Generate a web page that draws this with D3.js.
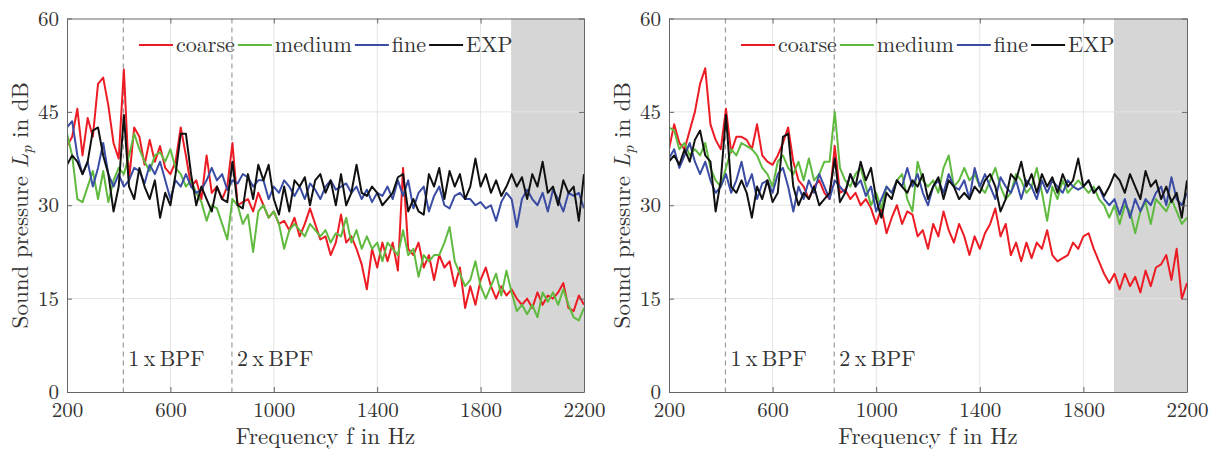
<!DOCTYPE html>
<html>
<head>
<meta charset="utf-8">
<script src="https://cdn.jsdelivr.net/npm/d3@7"></script>
<style>
  body { margin: 0; background: #fff; }
  text { font-family: "Latin Modern Roman", "Liberation Serif", serif; fill: #333; }
</style>
</head>
<body>
<svg id="chart" width="1215" height="452"></svg>
<script>
// frequency bins in Hz (20 Hz step)
var freqs = d3.range(200, 2201, 20)

var xTicks = [200, 600, 1000, 1400, 1800, 2200]
var yTicks = [0, 15, 30, 45, 60]
var bpf = [418, 838]
var bpfLabels = ["1\u2009x\u2009BPF", "2\u2009x\u2009BPF"]
var shadeFrom = 1918

var seriesNames = ["coarse", "medium", "fine", "EXP"]
var seriesColors = ["#ec1c24", "#5fba3f", "#3a4ca3", "#111111"]

// left case
var leftCoarse = [39.5,41,45.5,38,44,41,49.5,50.5,46,40,
  37.5,51.8,34,42.5,41,36.5,40.5,37,39.5,36,
  35,37,42.5,38,33,34,31,38,32,33,
  31,33,40,30,30.5,31,29,32,30,28,
  29,27,27.5,26,28,25,27,29.5,27,24.5,
  25,22,24,28.5,24,25,23,20.5,16.5,23,
  20,24,21,24,19.5,36,23,22,24,20,
  22,18,22,20,21,17,20,13.5,17,14,
  18,20,17,15,17,15.5,16.5,15,14,15,
  13.5,16,14,15.5,15,16,17.5,13.5,13,15.5,
  14]
var leftMedium = [41.5,38,31,30.5,33,35.5,31,35.5,30.5,34,
  36,35,38,41.5,39,37,35.5,38,38.5,37,
  39,36,35,33,34,32,30.5,27.5,30,29.5,
  27,24.5,31,30,27,28.5,22.5,29,30,28,
  29,27,23,26,27,26,25,27,26,25,
  26,24,25.5,25,28,24,26,23,25,23,
  24,21,24,23,22,26,22,23,18.5,22,
  21,22,22,24,26.5,21,19,17,18,21,
  17,15,17,19,15.5,19.5,16,13,14,12.5,
  14,12,16,14.5,16,14,16.5,14,12,11.5,
  13.5]
var leftFine = [42.5,43.5,38,35,37,33,36,40,35,33,
  35,33,34,36,35.5,33.5,36.5,35,37,34,
  31,34,33,35,33,32,32.5,34,36,34,
  35,32.5,34,33.5,35,34.5,33,34,34,31,
  33,32,34,33,31.5,33,31,33.5,32.5,31,
  33,34,32.5,33,33.5,32,33,31,32.5,30.5,
  32,31.5,33,31,34,31.5,34,29.5,32,33,
  29,31.5,33,30,29.5,31.5,32,31,31,30,
  30.5,29.5,30,27.5,30.5,32,31,26.5,31,32.5,
  31,30,32,29,32.5,31,29,32,31.5,32,
  29.5]
var leftExp = [36.5,38,37,35,37,42,42.5,38,35,29,
  33,44.5,33,31,36,33,31,34,28,32,
  30,35,41.5,41.5,35,30,33,31,29,33,
  31,30.5,37,30,29.5,35,31,36.5,34,36.5,
  31,28.5,33,29,34,33,34.5,30,34,35,
  32,34,30,35,30,32,36.5,32,31.5,33,
  32,30,31,32,34.5,35,29,31,29,28.5,
  35,33,36,31,35.5,33,35,31,33,37.5,
  33,35,32,34,31.5,33,35,33,34.5,31,
  35,33,37,32,33,30,34,32,33,27.5,
  35]

// right case
var rightCoarse = [39,43,40,39,42,45,49.5,52,43,40.5,
  39,45.5,38.5,41,41,40.5,39,43,38,37,
  36.5,38,40,42.5,37,34,33,31,33,34,
  32,31,39.5,32,32.5,31,32,30,31,29.5,
  27,29.5,25.5,28,30,27,29,28.5,25,26,
  23,27,25,29,26,24,27,25,22,25,
  23,25.5,27,29.5,25,27,22,24,21,24,
  21.5,24,23,26,22,21,21.5,22,24,23,
  25,25.5,23,21,19,17.5,19,16.5,19,17,
  18.5,16,19.5,17,20,20.5,22,18,23,15,
  17.5]
var rightMedium = [42.5,42,39,40,38,39,38,40,36,34,
  33,36,39,38,40,39.5,39,38,36,35,
  33,37,38,36,35,37,34,37.5,34,35,
  37,37,45,36,34,33,35,36,33,30,
  32,29.5,33,32,34,35,31,29,37,34,
  33,34,32,36,38,33,34,36,34,35,
  33,32,34,36,33,31,32,35,34,32,
  33,36,32,27.5,33,31,34,32,33,34,
  33,32,33,31,30,28,30,27,30,29,
  25.5,29,30.5,27,31,30,29,31,29,27,
  28]
var rightFine = [37.5,39,36,38,40,37,35,37,34,32,
  33,35,32,34,37,33,35,31,33.5,34,
  32,35,36,33,29,33,31,34,32,35,
  33,31,34,33,32,35,33,34,31.5,33,
  29,31,33,32,34,33,36,33,35,32,
  30,33,34,32,35,33,32.5,34,31,36,
  33,35,33,31,34.5,33,32,34,31,34,
  33,31,34,32,34,33,32,34,33,32.5,
  33,34,32,33,31,30,31,28.5,31,28,
  31,29,31,30,32,33,30,34.5,31,30,
  32]
var rightExp = [37,38,36.5,39,37,40.5,42,38,37,29,
  34,44.5,33,32,34,32,28,33,31,34,
  30.5,32,41,41.5,33,30,32,31,33,30,
  31,32,37.5,30.5,32,35,33,37,34,36,
  31,28,32,31,34,33,32,34,33,35,
  31,33,34.5,31,34,33,31,32,31,33,
  32,34,35,33,29,31,35,34,37,33,
  35,32,35,33,34.5,32,35,33,34,37.5,
  33,34,32,33,31.5,33,35,34,32,35,
  33,31,35.5,33,34,31,33,30.5,32,28,
  34]

var svg = d3.select("#chart")
var plotTop = 18.5, plotBottom = 392
var fontName = "'Latin Modern Roman', 'Liberation Serif', serif"

function drawPanel(id, left, right, series) {
  var x = d3.scaleLinear().domain([200, 2200]).range([left, right])
  var y = d3.scaleLinear().domain([0, 60]).range([plotBottom, plotTop])
  var g = svg.append("g")

  g.append("clipPath").attr("id", "clip" + id)
    .append("rect")
      .attr("x", left).attr("y", plotTop)
      .attr("width", right - left).attr("height", plotBottom - plotTop)

  // shaded range
  g.append("rect")
    .attr("x", x(shadeFrom)).attr("y", plotTop)
    .attr("width", x(2200) - x(shadeFrom)).attr("height", plotBottom - plotTop)
    .attr("fill", "#d6d6d6")

  // grid
  g.selectAll(".gx").data(xTicks.slice(1, -1)).enter().append("line")
    .attr("x1", x).attr("x2", x).attr("y1", plotTop).attr("y2", plotBottom)
    .attr("stroke", "#e4e4e4").attr("stroke-width", 1)
  g.selectAll(".gy").data(yTicks.slice(1, -1)).enter().append("line")
    .attr("x1", left).attr("x2", right).attr("y1", y).attr("y2", y)
    .attr("stroke", "#e4e4e4").attr("stroke-width", 1)

  // BPF markers
  g.selectAll(".bpf").data(bpf).enter().append("line")
    .attr("x1", x).attr("x2", x).attr("y1", plotTop).attr("y2", plotBottom)
    .attr("stroke", "#9a9a9a").attr("stroke-width", 1.2)
    .attr("stroke-dasharray", "5,4")
  g.selectAll(".bpfText").data(bpf).enter().append("text")
    .attr("x", function(d) { return x(d) + 5 })
    .attr("y", 366)
    .style("font-family", fontName).style("font-size", "22px")
    .text(function(d, i) { return bpfLabels[i] })

  var line = d3.line()
    .x(function(d, i) { return x(freqs[i]) })
    .y(function(d) { return y(d) })

  series.forEach(function(s, i) {
    g.append("path")
      .datum(s)
      .attr("clip-path", "url(#clip" + id + ")")
      .attr("fill", "none")
      .attr("stroke", seriesColors[i])
      .attr("stroke-width", 2)
      .attr("stroke-linejoin", "round")
      .attr("d", line)
  })

  // axes with inward ticks, box on
  var axCol = "#666"
  g.append("g").attr("transform", "translate(0," + plotBottom + ")")
    .call(d3.axisBottom(x).tickValues(xTicks).tickFormat(d3.format("d"))
      .tickSizeInner(-5).tickSizeOuter(0).tickPadding(10))
  g.append("g").attr("transform", "translate(" + left + ",0)")
    .call(d3.axisLeft(y).tickValues(yTicks).tickFormat(d3.format("d"))
      .tickSizeInner(-5).tickSizeOuter(0).tickPadding(8))
  g.append("g").attr("transform", "translate(0," + plotTop + ")")
    .call(d3.axisTop(x).tickValues(xTicks).tickSizeInner(-5).tickSizeOuter(0).tickFormat(""))
  g.append("g").attr("transform", "translate(" + right + ",0)")
    .call(d3.axisRight(y).tickValues(yTicks).tickSizeInner(-5).tickSizeOuter(0).tickFormat(""))
  g.selectAll(".domain, .tick line").attr("stroke", axCol)
  g.selectAll(".tick text")
    .style("font-family", fontName)
    .style("font-size", "21px").attr("fill", "#333")

  // axis labels
  g.append("text")
    .attr("x", (left + right) / 2).attr("y", 444)
    .attr("text-anchor", "middle")
    .style("font-family", fontName).style("font-size", "23px")
    .text("Frequency f in Hz")
  var yl = g.append("text")
    .attr("transform", "translate(" + (left - 39) + "," + ((plotTop + plotBottom) / 2) + ") rotate(-90)")
    .attr("text-anchor", "middle")
    .style("font-family", fontName).style("font-size", "23px")
  yl.append("tspan").text("Sound pressure ")
  yl.append("tspan").attr("font-style", "italic").text("L")
  yl.append("tspan").attr("font-style", "italic").style("font-size", "16px").attr("dy", 4).text("p")
  yl.append("tspan").attr("dy", -4).text(" in dB")

  // legend
  var lg = g.append("g")
  var cx = left + 72
  seriesNames.forEach(function(name, i) {
    lg.append("line")
      .attr("x1", cx).attr("x2", cx + 34).attr("y1", 45).attr("y2", 45)
      .attr("stroke", seriesColors[i]).attr("stroke-width", 2)
    cx += 37
    var t = lg.append("text").attr("x", cx).attr("y", 52)
      .style("font-family", fontName).style("font-size", "22px").text(name)
    cx += t.node().getComputedTextLength() + 3
  })
}

drawPanel("L", 67, 584, [leftCoarse, leftMedium, leftFine, leftExp])
drawPanel("R", 669, 1187, [rightCoarse, rightMedium, rightFine, rightExp])
</script>
</body>
</html>
